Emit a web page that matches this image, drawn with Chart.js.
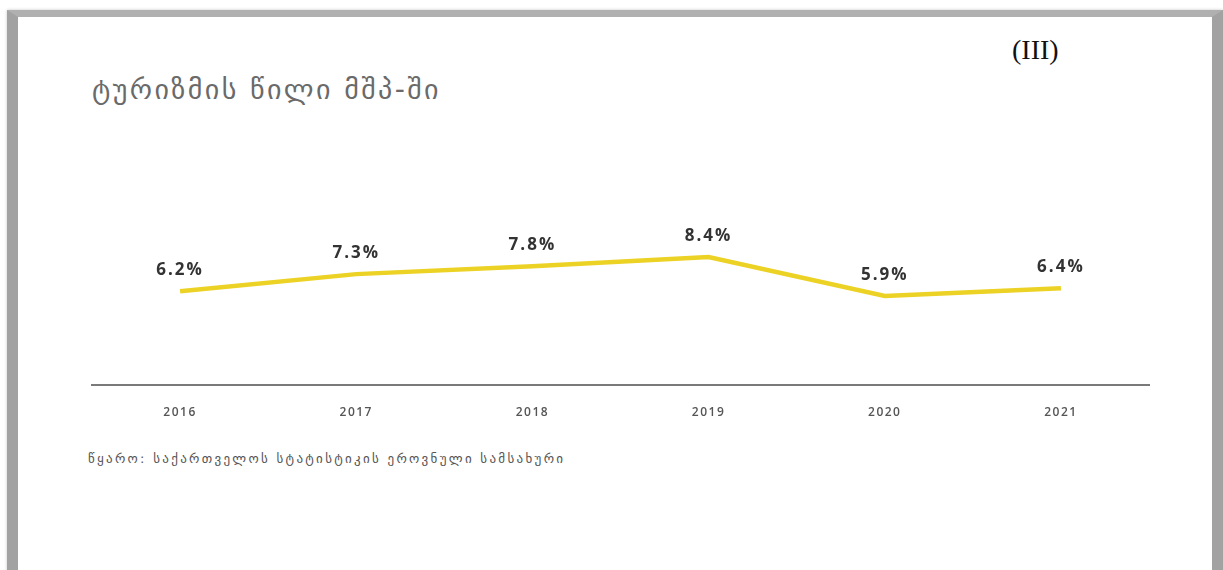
<!DOCTYPE html>
<html>
<head>
<meta charset="utf-8">
<script src="https://cdn.jsdelivr.net/npm/chart.js@4.4.0/dist/chart.umd.min.js"></script>
<style>
  html, body { margin: 0; padding: 0; background: #fff; overflow: hidden; }
  #page { position: relative; width: 1223px; height: 570px; }
  #frame {
    position: absolute; left: 7px; top: 10px; width: 1194px; height: 600px;
    border-left: 11px solid #a2a2a2; border-top: 7px solid #b0b0b0; border-right: 11px solid #a2a2a2;
    box-shadow: 0 0 3px #c8c8c8;
  }
  #roman { position: absolute; left: 1012px; top: 34px; font: 28px "Liberation Serif", serif; color: #111; }
  #title { position: absolute; left: 92px; top: 73px; font: 28px "DejaVu Sans", sans-serif; letter-spacing: 2.4px; color: #6a6a6a; }
  #source { position: absolute; left: 88px; top: 451px; font: 13px "DejaVu Sans", sans-serif; letter-spacing: 2.3px; color: #555; }
  #chartBox { position: absolute; left: 0; top: 0; width: 1223px; height: 570px; }
</style>
</head>
<body>
<div id="page">
  <div id="frame"></div>
  <div id="roman">(III)</div>
  <div id="title">ტურიზმის წილი მშპ-ში</div>
  <div id="source">წყარო: საქართველოს სტატისტიკის ეროვნული სამსახური</div>
  <div id="chartBox"><canvas id="myChart"></canvas></div>
</div>
<script>
var years = ['2016', '2017', '2018', '2019', '2020', '2021'];
var tourismShare = [6.2, 7.3, 7.8, 8.4, 5.9, 6.4];

// wider spacing for the year labels
var spacing = {
    id: 'spacing',
    beforeDraw: function (chart) {
        chart.ctx.letterSpacing = '1.5px';
    }
};

// draws the "6.2%" style labels above each point
var valueLabels = {
    id: 'valueLabels',
    afterDatasetsDraw: function (chart) {
        var c = chart.ctx;
        var meta = chart.getDatasetMeta(0);
        c.save();
        c.font = 'bold 17px "Open Sans", sans-serif';
        c.letterSpacing = '2px';
        c.fillStyle = '#333333';
        c.textAlign = 'center';
        c.textBaseline = 'middle';
        meta.data.forEach(function (pt, i) {
            c.fillText(tourismShare[i].toFixed(1) + '%', pt.x, pt.y - 21);
        });
        c.restore();
    }
};

var ctx = document.getElementById('myChart').getContext('2d');
var myChart = new Chart(ctx, {
    type: 'line',
    data: {
        labels: years,
        datasets: [
            {
                data: tourismShare,
                borderColor: '#ecd225',
                borderWidth: 4.5,
                pointRadius: 0,
                tension: 0,
                fill: false,
            },
        ],
    },
    options: {
        responsive: true,
        maintainAspectRatio: false,
        animation: false,
        layout: {
            padding: { left: 92, right: 74, top: 229, bottom: 137 },
        },
        plugins: {
            legend: { display: false },
            tooltip: { enabled: false },
        },
        scales: {
            x: {
                offset: true,
                grid: { display: false },
                border: { display: true, color: '#7a7a7a', width: 2 },
                ticks: {
                    padding: 13,
                    color: '#555555',
                    font: { family: '"Open Sans", sans-serif', size: 12, weight: '600' },
                },
            },
            y: {
                display: false,
                min: 0.2,
                max: 10.2,
            },
        },
    },
    plugins: [spacing, valueLabels],
});
</script>
</body>
</html>
